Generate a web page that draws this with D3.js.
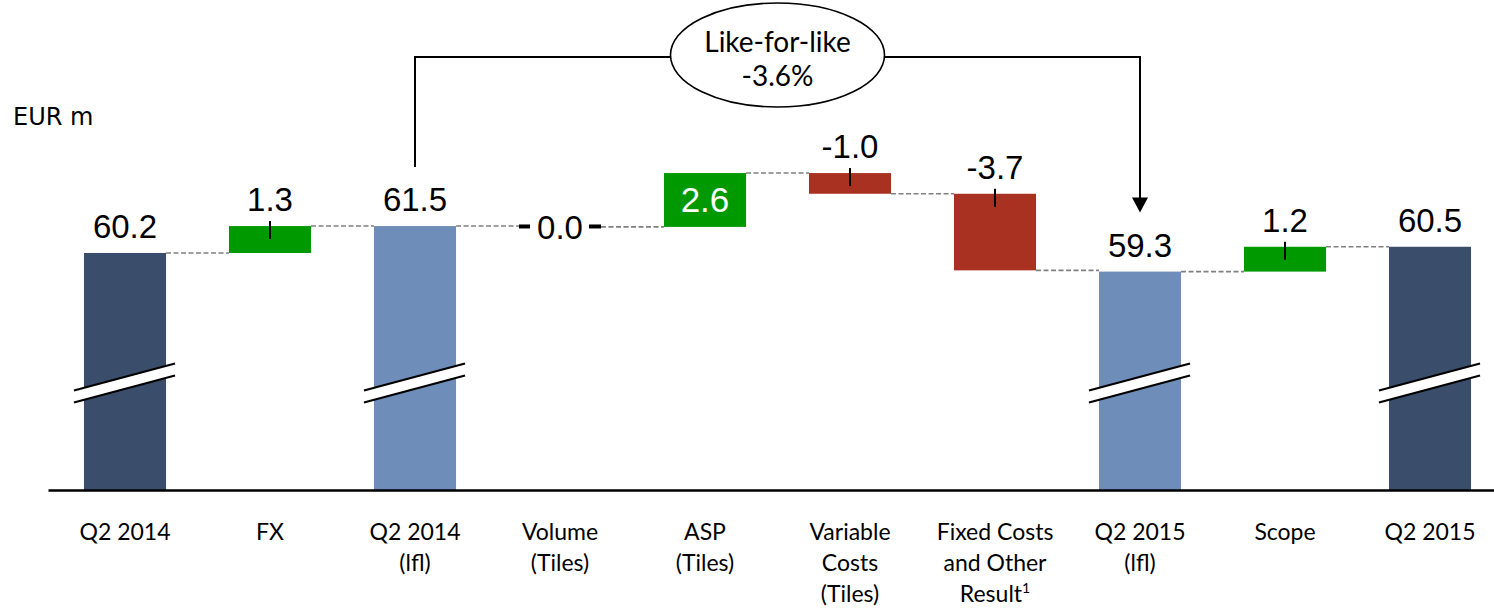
<!DOCTYPE html>
<html>
<head>
<meta charset="utf-8">
<script src="https://cdn.jsdelivr.net/npm/d3@7"></script>
<style>
  html, body { margin: 0; padding: 0; background: #fff; }
  svg { display: block; }
</style>
</head>
<body>
<svg id="chart" width="1494" height="608"></svg>
<script>
// Waterfall: EBIT bridge Q2 2014 -> Q2 2015 (EUR m)
const categories = [
  "Q2 2014", "FX", "Q2 2014 (lfl)", "Volume (Tiles)", "ASP (Tiles)",
  "Variable Costs (Tiles)", "Fixed Costs and Other Result", "Q2 2015 (lfl)",
  "Scope", "Q2 2015"
];
const categoryLines = [
  ["Q2 2014"], ["FX"], ["Q2 2014", "(lfl)"], ["Volume", "(Tiles)"], ["ASP", "(Tiles)"],
  ["Variable", "Costs", "(Tiles)"], ["Fixed Costs", "and Other", "Result"], ["Q2 2015", "(lfl)"],
  ["Scope"], ["Q2 2015"]
];
const footnoteMark = [null, null, null, null, null, null, "1", null, null, null];
// "total" bars stand on the axis, "delta" bars float from the running level
const kinds  = ["total", "delta", "total2", "delta", "delta", "delta", "delta", "total2", "delta", "total"];
const values = [60.2, 1.3, 61.5, -0.04, 2.6, -1.0, -3.7, 59.3, 1.2, 60.5];
const valueLabels = ["60.2", "1.3", "61.5", "0.0", "2.6", "-1.0", "-3.7", "59.3", "1.2", "60.5"];
// where each value label goes: above the bar, inside it, or on top of a hairline segment
const labelPlacement = ["above", "above", "above", "on", "inside", "above", "above", "above", "above", "above"];
const unitLabel = "EUR m";
const bracketText = ["Like-for-like", "-3.6%"];

const colors = {
  total: "#3a4d6b",
  total2: "#6f8db9",
  up: "#009900",
  down: "#a93121",
  tiny: "#000000",
  connector: "#808080"
};

const svg = d3.select("#chart");

const x = d3.scaleBand()
  .domain(categories)
  .range([48, 1507])
  .paddingInner(0.434)
  .paddingOuter(0.248);

// Broken value axis: bars are cut at the floor value
const y = d3.scaleLinear().domain([48.75, 72.42]).range([490, 0]);

// Build waterfall segments
let level = 0;
const bars = categories.map((c, i) => {
  const k = kinds[i];
  let start, end;
  if (k === "delta") {
    start = level; end = level + values[i];
  } else {
    start = y.domain()[0]; end = values[i];
  }
  level = end;
  const color = k === "total" ? colors.total
    : k === "total2" ? colors.total2
    : Math.abs(values[i]) < 0.05 ? colors.tiny
    : values[i] > 0 ? colors.up : colors.down;
  return { cat: c, i, kind: k, value: values[i], start, end, color,
           top: Math.max(start, end), bottom: Math.min(start, end) };
});

// Dashed connectors between consecutive bars
const connG = svg.append("g");
bars.slice(0, -1).forEach((b, i) => {
  const next = bars[i + 1];
  connG.append("line")
    .attr("x1", x(b.cat) + x.bandwidth())
    .attr("x2", x(next.cat))
    .attr("y1", y(b.end)).attr("y2", y(b.end))
    .attr("stroke", colors.connector)
    .attr("stroke-width", 1.6)
    .attr("stroke-dasharray", "5,2.5");
});

// Bars
svg.append("g").selectAll("rect")
  .data(bars)
  .join("rect")
  .attr("x", d => x(d.cat))
  .attr("width", x.bandwidth())
  .attr("y", d => {
    const h = y(d.bottom) - y(d.top);
    return h < 4 ? (y(d.top) + y(d.bottom)) / 2 - 2 : y(d.top);
  })
  .attr("height", d => Math.max(4, y(d.bottom) - y(d.top)))
  .attr("fill", d => d.color);

// Axis-break marks on the standing bars
const breakG = svg.append("g");
bars.filter(d => d.kind !== "delta").forEach(d => {
  const x0 = x(d.cat) - 10, x1 = x(d.cat) + x.bandwidth() + 9;
  const yc = 381, rise = 27, gap = 12;
  const yl = yc + rise / 2 - gap / 2 + 2, yr = yl - rise;
  breakG.append("path")
    .attr("d", `M${x0},${yl} L${x1},${yr} L${x1},${yr + gap} L${x0},${yl + gap} Z`)
    .attr("fill", "#fff");
  [0, gap].forEach(o => breakG.append("line")
    .attr("x1", x0).attr("y1", yl + o).attr("x2", x1).attr("y2", yr + o)
    .attr("stroke", "#000").attr("stroke-width", 2.2));
});

// Value labels
const labelFont = "'Liberation Sans', Arial, sans-serif";
const labG = svg.append("g");
bars.forEach(d => {
  const cx = x(d.cat) + x.bandwidth() / 2;
  const txt = valueLabels[d.i];
  const place = labelPlacement[d.i];
  if (place === "on") {
    // hairline segment: label sits on the bar with a white backing
    const yc = y(d.end);
    labG.append("rect").attr("x", cx - 30).attr("y", yc - 16)
      .attr("width", 59).attr("height", 32).attr("fill", "#fff");
    labG.append("text").attr("x", cx).attr("y", yc + 12)
      .attr("text-anchor", "middle").attr("font-family", labelFont)
      .attr("font-size", 33).attr("fill", "#000").text(txt);
  } else if (place === "inside") {
    labG.append("text").attr("x", cx).attr("y", (y(d.top) + y(d.bottom)) / 2 + 12.5)
      .attr("text-anchor", "middle").attr("font-family", labelFont)
      .attr("font-size", 35).attr("fill", "#fff").text(txt);
  } else {
    labG.append("text").attr("x", cx).attr("y", y(d.top) - 15)
      .attr("text-anchor", "middle").attr("font-family", labelFont)
      .attr("font-size", 33).attr("fill", "#000").text(txt);
    if (d.kind === "delta") {
      labG.append("line").attr("x1", cx).attr("x2", cx)
        .attr("y1", y(d.top) - 5).attr("y2", y(d.top) + 13)
        .attr("stroke", "#000").attr("stroke-width", 2);
    }
  }
});

// Category axis
const axisFont = "Lato, 'Open Sans', sans-serif";
const axisG = svg.append("g")
  .attr("transform", `translate(0,${y(y.domain()[0])})`)
  .call(d3.axisBottom(x).tickSize(0).tickFormat(""));
axisG.select(".domain").attr("stroke", "#000").attr("stroke-width", 2.6);
axisG.selectAll(".tick").each(function(c, i) {
  const t = d3.select(this).append("text")
    .attr("text-anchor", "middle")
    .attr("font-family", axisFont)
    .attr("font-size", 23)
    .attr("fill", "#000");
  categoryLines[i].forEach((ln, j) => {
    t.append("tspan").attr("x", 0).attr("y", 50 + j * 31).text(ln);
    if (j === categoryLines[i].length - 1 && footnoteMark[i]) {
      t.append("tspan").attr("dy", -9).attr("font-size", 14).text(footnoteMark[i]);
    }
  });
});

// Unit label
svg.append("text").attr("x", 13).attr("y", 125)
  .attr("font-family", "'DejaVu Sans', Verdana, sans-serif")
  .attr("font-size", 24).attr("fill", "#000").text(unitLabel);

// Like-for-like bracket from Q2 2014 (lfl) to Q2 2015 (lfl)
const fromBar = bars[2], toBar = bars[7];
const bx0 = x(fromBar.cat) + x.bandwidth() / 2;
const bx1 = x(toBar.cat) + x.bandwidth() / 2;
const by = 57;
const ex = (bx0 + bx1) / 2, ey = 55, erx = 107, ery = 52;
const brG = svg.append("g").attr("fill", "none").attr("stroke", "#000").attr("stroke-width", 2);
brG.append("path").attr("d",
  `M${bx0},${y(fromBar.top) - 59} V${by} H${ex - erx + 2}`);
brG.append("path").attr("d",
  `M${ex + erx - 2},${by} H${bx1} V${y(toBar.top) - 72}`);
svg.append("path")
  .attr("d", `M${bx1 - 8},${y(toBar.top) - 74} L${bx1 + 8},${y(toBar.top) - 74} L${bx1},${y(toBar.top) - 59} Z`)
  .attr("fill", "#000");
svg.append("ellipse").attr("cx", ex).attr("cy", ey).attr("rx", erx).attr("ry", ery)
  .attr("fill", "#fff").attr("stroke", "#000").attr("stroke-width", 1.6);
svg.append("text").attr("x", ex).attr("y", 52)
  .attr("text-anchor", "middle").attr("font-family", axisFont)
  .attr("font-size", 28).attr("fill", "#000").text(bracketText[0]);
svg.append("text").attr("x", ex).attr("y", 86)
  .attr("text-anchor", "middle").attr("font-family", axisFont)
  .attr("font-size", 28).attr("fill", "#000").text(bracketText[1]);
</script>
</body>
</html>
